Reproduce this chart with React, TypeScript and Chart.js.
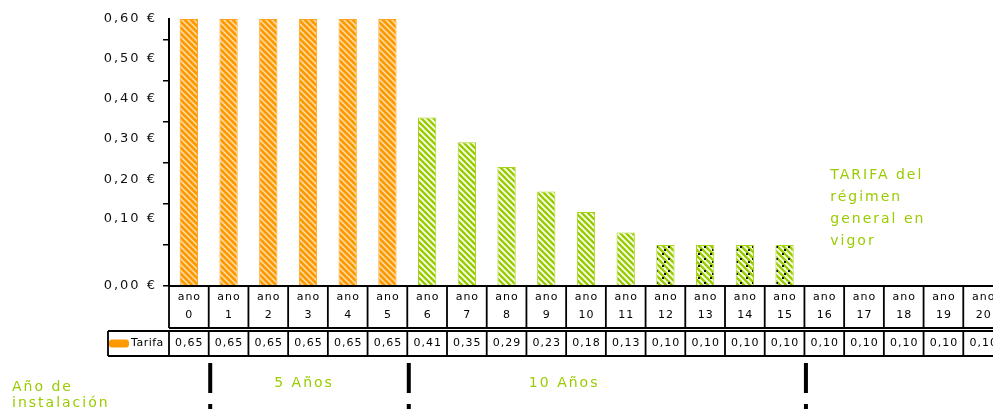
import React, { useEffect, useRef } from "react";
import { Chart, registerables } from "chart.js";

Chart.register(...registerables);

// ---------- data ----------
const years = ["0", "1", "2", "3", "4", "5", "6", "7", "8", "9", "10", "11", "12", "13", "14", "15", "16", "17", "18", "19", "20"];
const yearPrefix = "ano";
const seriesLabel = "Tarifa";
const tableValues = [0.65, 0.65, 0.65, 0.65, 0.65, 0.65, 0.41, 0.35, 0.29, 0.23, 0.18, 0.13, 0.10, 0.10, 0.10, 0.10, 0.10, 0.10, 0.10, 0.10, 0.10];
const barValues = [0.65, 0.65, 0.65, 0.65, 0.65, 0.65, 0.41, 0.35, 0.29, 0.23, 0.18, 0.13, 0.10, 0.10, 0.10, 0.10, null, null, null, null, null];
const barKinds = ["orange", "orange", "orange", "orange", "orange", "orange", "green", "green", "green", "green", "green", "green", "dotted", "dotted", "dotted", "dotted", "none", "none", "none", "none", "none"];
const yMax = 0.65;
const yTickValues = [0, 0.1, 0.2, 0.3, 0.4, 0.5, 0.6];
const yLabelTexts = ["0,00 €", "0,10 €", "0,20 €", "0,30 €", "0,40 €", "0,50 €", "0,60 €"];
const yLabelValues = [0, 0.163, 0.26, 0.358, 0.455, 0.553, 0.65];
const startLabel = ["Año de", "instalación"];
const periodLabels = ["5 Años", "10 Años"];
const periodCenters = [2.9, 9.45];
const markerBoundaries = [1, 6, 16];
const noteLines = ["TARIFA del", "régimen", "general en", "vigor"];

const ORANGE = "#ff9900";
const GREEN = "#99cc00";
const FONT = '"DejaVu Sans", sans-serif';

function makePattern(kind: string): CanvasPattern | string {
  const c = document.createElement("canvas");
  const s = kind === "dotted" ? 12 : 6;
  c.width = s;
  c.height = s;
  const g = c.getContext("2d");
  const base = kind === "orange" ? ORANGE : GREEN;
  if (!g) return base;
  g.fillStyle = base;
  g.fillRect(0, 0, s, s);
  g.strokeStyle = kind === "orange" ? "rgba(255,228,185,0.95)" : "rgba(255,255,255,0.95)";
  g.lineWidth = kind === "orange" ? 1.5 : 1.9;
  const step = 6;
  g.beginPath();
  for (let k = -s; k <= s; k += step) {
    g.moveTo(k - 1, -1);
    g.lineTo(k + s + 1, s + 1);
  }
  g.stroke();
  if (kind === "dotted") {
    g.fillStyle = "#111";
    g.fillRect(2, 1, 2, 2);
    g.fillRect(8, 6, 2, 2);
    g.fillRect(4, 9, 2, 2);
  }
  const p = g.createPattern(c, "repeat");
  return p || base;
}

const tablePlugin = {
  id: "tableAndNotes",
  beforeDraw(chart: any) {
    (chart.ctx as any).letterSpacing = "2px";
  },
  afterDraw(chart: any) {
    const ctx = chart.ctx as CanvasRenderingContext2D;
    const xs = chart.scales.x;
    const ys = chart.scales.y;
    const n = years.length;
    const colW = xs.getPixelForValue(1) - xs.getPixelForValue(0);
    const left = xs.getPixelForValue(0) - colW / 2;
    const right = left + colW * n;
    const y0 = ys.getPixelForValue(0);
    const r1b = y0 + 42;
    const r2t = y0 + 45;
    const r2b = y0 + 70;
    const legL = left - 61;

    ctx.save();
    (ctx as any).letterSpacing = "0px";
    ctx.strokeStyle = "#000";
    ctx.lineWidth = 1.8;
    ctx.beginPath();
    ctx.moveTo(left, y0);
    ctx.lineTo(right, y0);
    ctx.moveTo(left, r1b);
    ctx.lineTo(right, r1b);
    ctx.moveTo(legL, r2t);
    ctx.lineTo(right, r2t);
    ctx.moveTo(legL, r2b);
    ctx.lineTo(right, r2b);
    ctx.moveTo(legL, r2t);
    ctx.lineTo(legL, r2b);
    for (let i = 0; i <= n; i++) {
      const x = left + i * colW;
      ctx.moveTo(x, y0);
      ctx.lineTo(x, r1b);
      ctx.moveTo(x, r2t);
      ctx.lineTo(x, r2b);
    }
    ctx.stroke();

    // table text
    (ctx as any).letterSpacing = "1px";
    ctx.fillStyle = "#000";
    ctx.textAlign = "center";
    ctx.textBaseline = "middle";
    ctx.font = `11px ${FONT}`;
    for (let i = 0; i < n; i++) {
      const cx = xs.getPixelForValue(i) + 0.5;
      ctx.fillText(yearPrefix, cx, y0 + 11);
      ctx.fillText(years[i], cx, y0 + 29);
      ctx.fillText(tableValues[i].toFixed(2).replace(".", ","), cx, r2t + 12.5);
    }

    // legend cell
    ctx.fillStyle = ORANGE;
    ctx.beginPath();
    if ((ctx as any).roundRect) (ctx as any).roundRect(legL + 1, r2t + 8.5, 20, 8, 3);
    else ctx.rect(legL + 1, r2t + 8.5, 20, 8);
    ctx.fill();
    ctx.fillStyle = "#000";
    ctx.textAlign = "left";
    (ctx as any).letterSpacing = "0.5px";
    ctx.fillText(seriesLabel, legL + 23, r2t + 12.5);

    // markers
    ctx.fillStyle = "#000";
    for (const b of markerBoundaries) {
      const x = left + b * colW + 1.5;
      ctx.fillRect(x - 2, y0 + 77, 4, 30);
      ctx.fillRect(x - 2, y0 + 118, 4, 5);
    }

    // period labels
    (ctx as any).letterSpacing = "2px";
    ctx.font = `14px ${FONT}`;
    ctx.fillStyle = GREEN;
    ctx.textAlign = "center";
    periodLabels.forEach((t, i) => {
      ctx.fillText(t, xs.getPixelForValue(periodCenters[i]), y0 + 97);
    });
    ctx.textAlign = "left";
    startLabel.forEach((t, i) => {
      ctx.fillText(t, 12, y0 + 101 + i * 16);
    });

    // note
    const noteX = xs.getPixelForValue(16) + 6;
    const noteY = ys.getPixelForValue(0.27);
    noteLines.forEach((t, i) => {
      ctx.fillText(t, noteX, noteY + i * 22);
    });
    ctx.restore();
  },
};

export default function App() {
  const ref = useRef<HTMLCanvasElement | null>(null);

  useEffect(() => {
    if (!ref.current) return;
    Chart.defaults.font.family = FONT;
    const fills = barKinds.map((k) => (k === "none" ? "rgba(0,0,0,0)" : makePattern(k)));
    const borders = barKinds.map((k) => (k === "orange" ? "#ffa31a" : k === "none" ? "rgba(0,0,0,0)" : "#a6d41a"));
    const chart = new Chart(ref.current, {
      type: "bar",
      data: {
        labels: years,
        datasets: [
          {
            label: seriesLabel,
            data: barValues as any,
            backgroundColor: fills as any,
            borderColor: borders,
            borderWidth: 1,
            barPercentage: 0.46,
            categoryPercentage: 1,
            xAxisID: "x",
            yAxisID: "y",
          },
        ],
      },
      options: {
        animation: false,
        responsive: true,
        maintainAspectRatio: false,
        layout: { padding: { top: 19, bottom: 126, left: 0, right: 7 } },
        plugins: { legend: { display: false }, tooltip: { enabled: false }, title: { display: false } },
        scales: {
          x: { type: "category", display: false, offset: true, grid: { display: false } },
          y: {
            type: "linear",
            min: 0,
            max: yMax,
            position: "left",
            weight: 0,
            afterBuildTicks: (s: any) => {
              s.ticks = yTickValues.map((v) => ({ value: v }));
            },
            afterFit: (s: any) => {
              s.width = 7;
            },
            ticks: { display: false },
            grid: { drawOnChartArea: false, drawTicks: true, tickLength: 6, color: "#000", lineWidth: 1.5 },
            border: { display: true, color: "#000", width: 2 },
          },
          yl: {
            type: "linear",
            min: 0,
            max: yMax,
            position: "left",
            weight: 1,
            afterBuildTicks: (s: any) => {
              s.ticks = yLabelValues.map((v) => ({ value: v }));
            },
            afterFit: (s: any) => {
              s.width = 162;
            },
            ticks: {
              callback: (_v: any, i: number) => yLabelTexts[i],
              padding: 5,
              color: "#111",
              font: { size: 13, family: FONT },
            },
            grid: { display: false, drawTicks: false },
            border: { display: false },
          },
        } as any,
      },
      plugins: [tablePlugin],
    });
    return () => chart.destroy();
  }, []);

  return (
    <div style={{ position: "fixed", left: 0, top: 0, width: "100vw", height: "100vh", overflow: "hidden", background: "#fff" }}>
      <div style={{ position: "relative", width: 1010, height: 412 }}>
        <canvas ref={ref} />
      </div>
    </div>
  );
}
